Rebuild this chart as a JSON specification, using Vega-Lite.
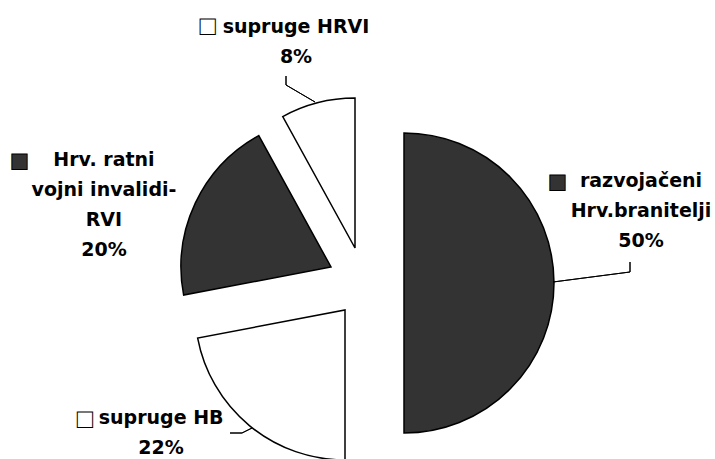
{
  "$schema": "https://vega.github.io/schema/vega-lite/v6.json",
  "width": 696,
  "height": 352,
  "autosize": {"type": "none"},
  "padding": {"left": 19, "top": 107, "right": 0, "bottom": 0},
  "background": "white",
  "config": {"view": {"stroke": null}, "font": "DejaVu Sans"},
  "data": {"values": [
    {"red": 1, "kategorija": "razvojačeni Hrv.branitelji", "udio": 50, "natpis": "razvojačeni\nHrv.branitelji\n50%"},
    {"red": 2, "kategorija": "supruge HB", "udio": 22, "natpis": "supruge HB\n22%"},
    {"red": 3, "kategorija": "Hrv. ratni vojni invalidi-RVI", "udio": 20, "natpis": "Hrv. ratni\nvojni invalidi-\nRVI\n20%"},
    {"red": 4, "kategorija": "supruge HRVI", "udio": 8, "natpis": "supruge HRVI\n8%"}
  ]},
  "transform": [
    {"stack": "udio", "groupby": [], "sort": [{"field": "red", "order": "ascending"}], "as": ["kut0", "kut1"]}
  ],
  "layer": [
    {
      "transform": [{"filter": "datum.red == 1"}],
      "mark": {"type": "arc", "outerRadius": 150, "fill": "#333333", "stroke": "black", "strokeWidth": 1.5, "xOffset": 37, "yOffset": 0},
      "encoding": {
        "theta": {"field": "kut0", "type": "quantitative", "stack": null, "scale": {"domain": [0, 100], "range": [0, 6.283185307179586]}},
        "theta2": {"field": "kut1"}
      }
    },
    {
      "transform": [{"filter": "datum.red == 2"}],
      "mark": {"type": "arc", "outerRadius": 150, "fill": "white", "stroke": "black", "strokeWidth": 1.5, "xOffset": -22, "yOffset": 27},
      "encoding": {
        "theta": {"field": "kut0", "type": "quantitative", "stack": null, "scale": {"domain": [0, 100], "range": [0, 6.283185307179586]}},
        "theta2": {"field": "kut1"}
      }
    },
    {
      "transform": [{"filter": "datum.red == 3"}],
      "mark": {"type": "arc", "outerRadius": 150, "fill": "#333333", "stroke": "black", "strokeWidth": 1.5, "xOffset": -36, "yOffset": -16},
      "encoding": {
        "theta": {"field": "kut0", "type": "quantitative", "stack": null, "scale": {"domain": [0, 100], "range": [0, 6.283185307179586]}},
        "theta2": {"field": "kut1"}
      }
    },
    {
      "transform": [{"filter": "datum.red == 4"}],
      "mark": {"type": "arc", "outerRadius": 150, "fill": "white", "stroke": "black", "strokeWidth": 1.5, "xOffset": -12, "yOffset": -35},
      "encoding": {
        "theta": {"field": "kut0", "type": "quantitative", "stack": null, "scale": {"domain": [0, 100], "range": [0, 6.283185307179586]}},
        "theta2": {"field": "kut1"}
      }
    },
    {
      "transform": [{"filter": "datum.red == 1"}],
      "mark": {"type": "arc", "outerRadius": 77.6, "fill": null, "stroke": "black", "strokeWidth": 1, "xOffset": 186, "yOffset": -1, "thetaOffset": 1.4416, "theta2Offset": 1.4416},
      "encoding": {
        "theta": {"field": "kut0", "type": "quantitative", "stack": null, "scale": {"domain": [0, 100], "range": [0, 6.283185307179586]}},
        "theta2": {"field": "kut0"}
      }
    },
    {
      "transform": [{"filter": "datum.red == 1"}],
      "mark": {"type": "arc", "outerRadius": 10, "fill": null, "stroke": "black", "strokeWidth": 1, "xOffset": 263, "yOffset": -11, "thetaOffset": 0, "theta2Offset": 0},
      "encoding": {
        "theta": {"field": "kut0", "type": "quantitative", "stack": null, "scale": {"domain": [0, 100], "range": [0, 6.283185307179586]}},
        "theta2": {"field": "kut0"}
      }
    },
    {
      "transform": [{"filter": "datum.red == 2"}],
      "mark": {"type": "arc", "outerRadius": 11.2, "fill": null, "stroke": "black", "strokeWidth": 1, "xOffset": -115, "yOffset": 145, "thetaOffset": 1.1075, "theta2Offset": 1.1075},
      "encoding": {
        "theta": {"field": "kut0", "type": "quantitative", "stack": null, "scale": {"domain": [0, 100], "range": [0, 6.283185307179586]}},
        "theta2": {"field": "kut0"}
      }
    },
    {
      "transform": [{"filter": "datum.red == 2"}],
      "mark": {"type": "arc", "outerRadius": 12, "fill": null, "stroke": "black", "strokeWidth": 1, "xOffset": -125, "yOffset": 150, "thetaOffset": 1.5708, "theta2Offset": 1.5708},
      "encoding": {
        "theta": {"field": "kut0", "type": "quantitative", "stack": null, "scale": {"domain": [0, 100], "range": [0, 6.283185307179586]}},
        "theta2": {"field": "kut0"}
      }
    },
    {
      "transform": [{"filter": "datum.red == 4"}],
      "mark": {"type": "arc", "outerRadius": 33.6, "fill": null, "stroke": "black", "strokeWidth": 1, "xOffset": -52, "yOffset": -181, "thetaOffset": -0.5375, "theta2Offset": -0.5375},
      "encoding": {
        "theta": {"field": "kut0", "type": "quantitative", "stack": null, "scale": {"domain": [0, 100], "range": [0, 6.283185307179586]}},
        "theta2": {"field": "kut0"}
      }
    },
    {
      "transform": [{"filter": "datum.red == 4"}],
      "mark": {"type": "arc", "outerRadius": 9, "fill": null, "stroke": "black", "strokeWidth": 1, "xOffset": -81, "yOffset": -198, "thetaOffset": 0.5027, "theta2Offset": 0.5027},
      "encoding": {
        "theta": {"field": "kut0", "type": "quantitative", "stack": null, "scale": {"domain": [0, 100], "range": [0, 6.283185307179586]}},
        "theta2": {"field": "kut0"}
      }
    },
    {
      "transform": [{"filter": "datum.red == 1"}],
      "mark": {"type": "text", "align": "center", "baseline": "alphabetic", "lineBreak": "\n", "lineHeight": 30, "fontSize": 19, "fontWeight": "bold", "color": "black", "radius": 290.3, "thetaOffset": 1.234},
      "encoding": {
        "theta": {"field": "kut0", "type": "quantitative", "stack": null, "scale": {"domain": [0, 100], "range": [0, 6.283185307179586]}},
        "text": {"field": "natpis"}
      }
    },
    {
      "transform": [{"filter": "datum.red == 2"}],
      "mark": {"type": "text", "align": "center", "baseline": "alphabetic", "lineBreak": "\n", "lineHeight": 30, "fontSize": 19, "fontWeight": "bold", "color": "black", "radius": 249.6, "thetaOffset": 0.970},
      "encoding": {
        "theta": {"field": "kut0", "type": "quantitative", "stack": null, "scale": {"domain": [0, 100], "range": [0, 6.283185307179586]}},
        "text": {"field": "natpis"}
      }
    },
    {
      "transform": [{"filter": "datum.red == 3"}],
      "mark": {"type": "text", "align": "center", "baseline": "alphabetic", "lineBreak": "\n", "lineHeight": 30, "fontSize": 19, "fontWeight": "bold", "color": "black", "radius": 287.9, "thetaOffset": 0.607},
      "encoding": {
        "theta": {"field": "kut0", "type": "quantitative", "stack": null, "scale": {"domain": [0, 100], "range": [0, 6.283185307179586]}},
        "text": {"field": "natpis"}
      }
    },
    {
      "transform": [{"filter": "datum.red == 4"}],
      "mark": {"type": "text", "align": "center", "baseline": "alphabetic", "lineBreak": "\n", "lineHeight": 30, "fontSize": 19, "fontWeight": "bold", "color": "black", "radius": 259.9, "thetaOffset": 0.226},
      "encoding": {
        "theta": {"field": "kut0", "type": "quantitative", "stack": null, "scale": {"domain": [0, 100], "range": [0, 6.283185307179586]}},
        "text": {"field": "natpis"}
      }
    },
    {
      "transform": [{"filter": "datum.red == 1"}],
      "mark": {"type": "text", "align": "center", "baseline": "middle", "fontSize": 20, "fill": "#333333", "stroke": "black", "strokeWidth": 1, "radius": 215.4, "thetaOffset": 1.0853},
      "encoding": {
        "theta": {"field": "kut0", "type": "quantitative", "stack": null, "scale": {"domain": [0, 100], "range": [0, 6.283185307179586]}},
        "text": {"value": "■"}
      }
    },
    {
      "transform": [{"filter": "datum.red == 2"}],
      "mark": {"type": "text", "align": "center", "baseline": "middle", "fontSize": 20, "fill": "white", "stroke": "black", "strokeWidth": 1, "radius": 313.1, "thetaOffset": 1.1216},
      "encoding": {
        "theta": {"field": "kut0", "type": "quantitative", "stack": null, "scale": {"domain": [0, 100], "range": [0, 6.283185307179586]}},
        "text": {"value": "■"}
      }
    },
    {
      "transform": [{"filter": "datum.red == 3"}],
      "mark": {"type": "text", "align": "center", "baseline": "middle", "fontSize": 20, "fill": "#333333", "stroke": "black", "strokeWidth": 1, "radius": 368.5, "thetaOffset": 0.5273},
      "encoding": {
        "theta": {"field": "kut0", "type": "quantitative", "stack": null, "scale": {"domain": [0, 100], "range": [0, 6.283185307179586]}},
        "text": {"value": "■"}
      }
    },
    {
      "transform": [{"filter": "datum.red == 4"}],
      "mark": {"type": "text", "align": "center", "baseline": "middle", "fontSize": 20, "fill": "white", "stroke": "black", "strokeWidth": 1, "radius": 302.0, "thetaOffset": -0.0534},
      "encoding": {
        "theta": {"field": "kut0", "type": "quantitative", "stack": null, "scale": {"domain": [0, 100], "range": [0, 6.283185307179586]}},
        "text": {"value": "■"}
      }
    }
  ]
}
